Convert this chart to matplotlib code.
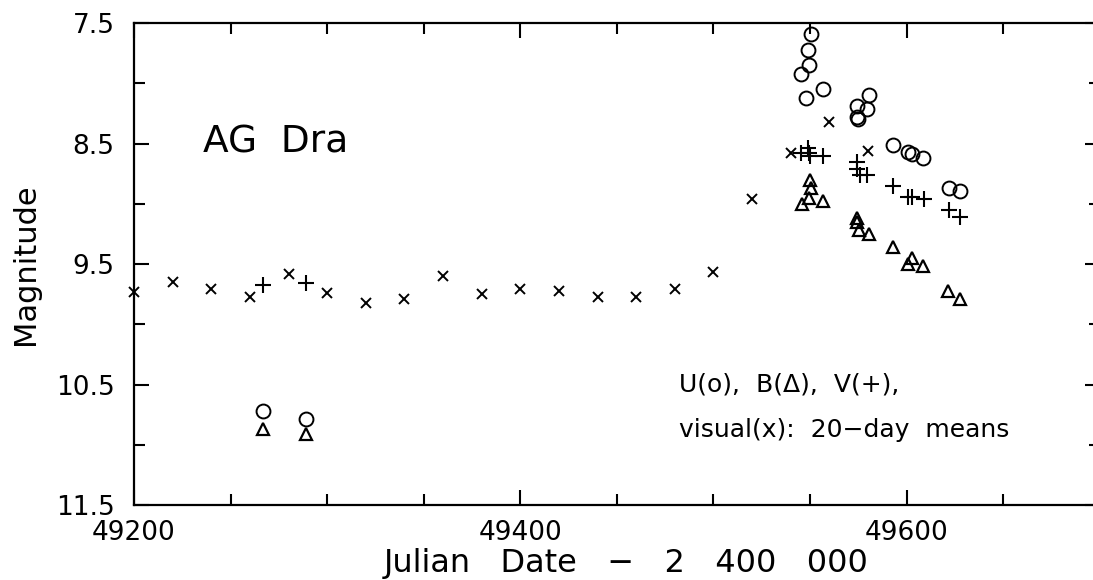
import matplotlib
matplotlib.use("Agg")
import matplotlib.pyplot as plt
from matplotlib.ticker import MultipleLocator

# AG Dra light curve, JD - 2 400 000
u_jd = [49267, 49289, 49545.5, 49548, 49549, 49549.5, 49550.5, 49556.5,
        49574.5, 49574.5, 49575, 49579.5, 49580.5, 49593, 49601, 49603,
        49608.5, 49622, 49627.5]
u_mag = [10.72, 10.79, 7.92, 8.12, 7.72, 7.85, 7.59, 8.05,
         8.19, 8.28, 8.30, 8.21, 8.10, 8.51, 8.57, 8.59,
         8.62, 8.87, 8.89]

b_jd = [49267, 49289, 49546, 49549.5, 49550, 49550.5, 49556.5, 49574.5,
        49574.5, 49575.5, 49580.5, 49593, 49601, 49603, 49608.5, 49621.5,
        49627.5]
b_mag = [10.87, 10.91, 9.00, 8.95, 8.80, 8.87, 8.98, 9.12,
         9.15, 9.22, 9.25, 9.36, 9.50, 9.45, 9.52, 9.72,
         9.79]

v_jd = [49267, 49289, 49545.5, 49549, 49549.5, 49550, 49556.5, 49574.5,
        49574.5, 49576, 49579.5, 49593, 49601, 49603, 49609, 49622,
        49627.5]
v_mag = [9.67, 9.66, 8.58, 8.54, 8.58, 8.60, 8.60, 8.65,
         8.71, 8.76, 8.76, 8.85, 8.94, 8.94, 8.96, 9.05,
         9.11]

vis_jd = [49200, 49220, 49240, 49260, 49280, 49300, 49320, 49340, 49360, 49380,
          49400, 49420, 49440, 49460, 49480, 49500, 49520, 49540, 49560, 49580]
vis_mag = [9.73, 9.65, 9.71, 9.77, 9.58, 9.74, 9.82, 9.79, 9.60, 9.75,
           9.71, 9.72, 9.77, 9.77, 9.71, 9.57, 8.96, 8.58, 8.32, 8.56]

plt.rcParams['font.family'] = ['DejaVu Sans']

fig = plt.figure(figsize=(10.93, 5.80), dpi=100)
ax = fig.add_axes([0.1226, 0.1293, 0.8835, 0.831])

ax.plot(u_jd, u_mag, 'o', ms=10, mfc='none', mec='black', mew=1.4, clip_on=False)
ax.plot(b_jd, b_mag, '^', ms=8.5, mfc='none', mec='black', mew=1.6, clip_on=False)
ax.plot(v_jd, v_mag, '+', ms=11, color='black', mew=1.5, clip_on=False)
ax.plot(vis_jd, vis_mag, 'x', ms=7, color='black', mew=1.4, clip_on=False)

ax.set_xlim(49200, 49700)
ax.set_ylim(11.5, 7.5)
ax.xaxis.set_minor_locator(MultipleLocator(50))
ax.yaxis.set_minor_locator(MultipleLocator(0.5))
ax.set_yticks([7.5, 8.5, 9.5, 10.5, 11.5])
ax.set_yticklabels(['7.5', '8.5', '9.5', '10.5', '11.5'])
ax.set_xticks([49200, 49400, 49600])

ax.tick_params(which='both', direction='in', top=True, right=True, width=1.5)
ax.tick_params(which='major', length=11)
ax.tick_params(which='minor', length=8)
ax.tick_params(axis='x', labelsize=19, pad=11)
ax.tick_params(axis='y', labelsize=19, pad=14)
for s in ax.spines.values():
    s.set_linewidth(1.6)

ax.set_ylabel('Magnitude', fontsize=22)
ax.yaxis.set_label_coords(-0.097, 0.5)
ax.set_xlabel('Julian   Date   \u2212   2   400   000', fontsize=23)
ax.xaxis.set_label_coords(0.51, -0.09)

ax.text(0.0717, 0.753, 'AG  Dra', transform=ax.transAxes, fontsize=27, va='center')
ax.text(0.564, 0.249, 'U(o),  B(\u0394),  V(+),', transform=ax.transAxes,
        fontsize=18, va='center')
ax.text(0.564, 0.156, 'visual(x):  20\u2212day  means', transform=ax.transAxes,
        fontsize=18, va='center')

fig.savefig('out.png', dpi=100)
